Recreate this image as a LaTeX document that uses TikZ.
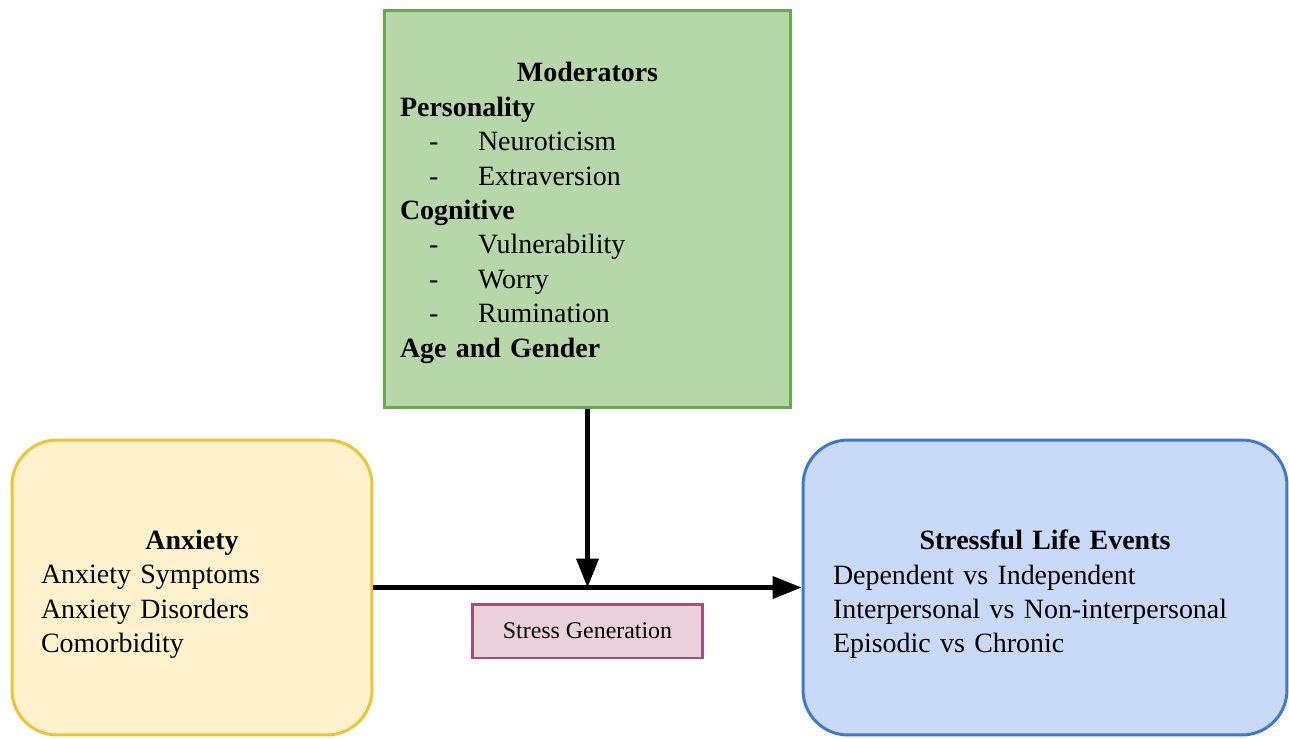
\documentclass[tikz,border=0pt]{standalone}
\usepackage{fontspec}
\setmainfont{Liberation Serif}
\usetikzlibrary{arrows.meta,positioning}
\definecolor{modFill}{HTML}{B6D7A8}
\definecolor{modLine}{HTML}{6AA84F}
\definecolor{anxFill}{HTML}{FFF2CC}
\definecolor{anxLine}{HTML}{F1C232}
\definecolor{lifeFill}{HTML}{C9DAF8}
\definecolor{lifeLine}{HTML}{3C78D8}
\definecolor{genFill}{HTML}{EAD1DC}
\definecolor{genLine}{HTML}{A64D79}
\newcommand{\subItem}[1]{\hspace*{16.5pt}\makebox[27.9pt][l]{-}#1}
\newcommand{\boxTitle}[1]{\rule{0pt}{19pt}\hspace*{\fill}\textbf{#1}\hspace*{\fill}\null}

\begin{document}
\begin{tikzpicture}[x=0.02cm, y=-0.02cm,
    % Box styles
    boxtext/.style={align=left, inner ysep=0pt, line width=1.7pt,
        font=\fontsize{15.9}{19.6}\selectfont},
    modbox/.style={boxtext, draw=modLine, fill=modFill, text width=7.5cm,
        inner xsep=0.32cm, minimum width=8.14cm, minimum height=7.96cm},
    anxbox/.style={boxtext, draw=anxLine, fill=anxFill, rounded corners=0.9cm,
        text width=6.04cm, inner xsep=0.58cm, minimum height=5.9cm},
    lifebox/.style={boxtext, draw=lifeLine, fill=lifeFill, rounded corners=0.9cm,
        text width=8.48cm, inner xsep=0.6cm, minimum height=5.9cm},
    genbox/.style={draw=genLine, fill=genFill, line width=1.7pt,
        minimum width=4.62cm, minimum height=1.08cm,
        font=\fontsize{13.6}{16}\selectfont},
    link/.style={line width=2.3pt, -{Triangle[length=0.58cm, width=0.44cm]}}
]
    % Page size
    \useasboundingbox (0,0) rectangle (1289,738);
    % Moderators box (top)
    \node[modbox] (mod) at (587.5,209) {%
        \boxTitle{Moderators}\\
        \textbf{Personality}\\
        \subItem{Neuroticism}\\
        \subItem{Extraversion}\\
        \textbf{Cognitive}\\
        \subItem{Vulnerability}\\
        \subItem{Worry}\\
        \subItem{Rumination}\\
        \textbf{Age and Gender}\rule[-7pt]{0pt}{1pt}};
    % Anxiety box (left)
    \node[anxbox] (anx) at (192,587.5) {%
        \boxTitle{Anxiety}\\
        Anxiety Symptoms\\
        Anxiety Disorders\\
        Comorbidity};
    % Stressful life events box (right)
    \node[lifebox] (life) at (1045,587.5) {%
        \boxTitle{Stressful Life Events}\\
        Dependent vs Independent\\
        Interpersonal vs Non-interpersonal\\
        Episodic vs Chronic};
    % Label under the main arrow
    \node[genbox] (gen) at (587.5,631) {Stress Generation};
    % Arrows
    \coordinate (meet) at (mod.south |- anx.east);
    \draw[link] (anx.east) -- (life.west);
    \draw[link] (mod.south) -- (meet);
\end{tikzpicture}
\end{document}
